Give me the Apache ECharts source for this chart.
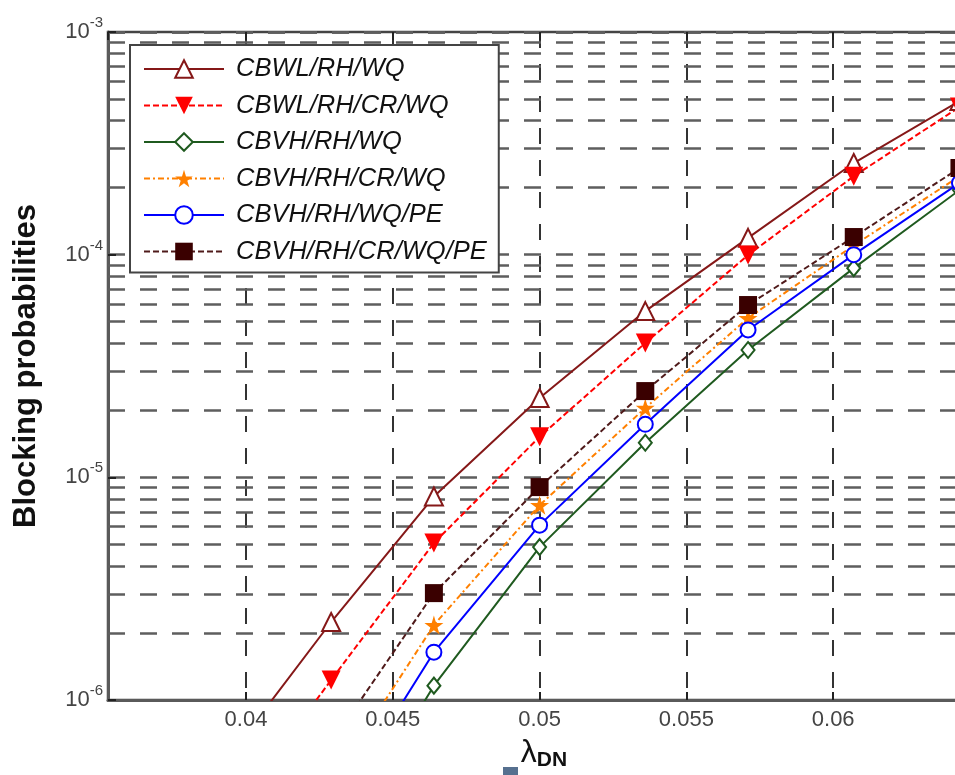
<!DOCTYPE html>
<html>
<head>
<meta charset="utf-8">
<script src="https://cdn.jsdelivr.net/npm/echarts@6/dist/echarts.min.js"></script>
<style>
  html, body { margin: 0; padding: 0; background: #fff; }
  #chart { width: 955px; height: 775px; }
</style>
</head>
<body>
<div id="chart"></div>
<script>
// lambda_DN values of the markers (the first one is below the visible y range)
const lambdaDN = [0.0393, 0.0429, 0.0464, 0.05, 0.0536, 0.0571, 0.0607, 0.0643]

const seriesNames = ['CBWL/RH/WQ', 'CBWL/RH/CR/WQ', 'CBVH/RH/WQ', 'CBVH/RH/CR/WQ', 'CBVH/RH/WQ/PE', 'CBVH/RH/CR/WQ/PE']

// blocking probabilities
const cbwlRhWq = [5.3e-7, 2.24e-6, 8.2e-6, 2.27e-5, 5.58e-5, 1.19e-4, 2.58e-4, 4.9e-4]
const cbwlRhCrWq = [2.8e-7, 1.23e-6, 5.07e-6, 1.52e-5, 4.01e-5, 9.96e-5, 2.25e-4, 4.6e-4]
const cbvhRhWq = [null, 2.0e-7, 1.16e-6, 4.86e-6, 1.43e-5, 3.73e-5, 8.7e-5, 1.95e-4]
const cbvhRhCrWq = [null, 4.2e-7, 2.17e-6, 7.5e-6, 2.05e-5, 5.19e-5, 1.1e-4, 2.25e-4]
const cbvhRhWqPe = [null, 3.0e-7, 1.64e-6, 6.1e-6, 1.73e-5, 4.59e-5, 1.0e-4, 2.1e-4]
const cbvhRhCrWqPe = [null, 6.4e-7, 3.02e-6, 9.04e-6, 2.44e-5, 5.94e-5, 1.2e-4, 2.45e-4]

// minor log grid lines (2..9 x 10^k), like matlab
const minorGrid = []
for (let k = -6; k < -3; k++) {
  for (let m = 2; m <= 9; m++) minorGrid.push(m * Math.pow(10, k))
}

const starPath = 'path://M50,0 L61,35 L98,35 L68,57 L79,91 L50,70 L21,91 L32,57 L2,35 L39,35 Z'
const font = '"Liberation Sans", Arial, sans-serif'

function pairs(ys) {
  const out = []
  ys.forEach((y, i) => { if (y !== null) out.push([lambdaDN[i], y]) })
  return out
}

const chart = echarts.init(document.getElementById('chart'), null, { renderer: 'canvas' })
chart.setOption({
  animation: false,
  backgroundColor: '#fff',
  grid: {
    left: 108,
    top: 32,
    width: 872,
    height: 668,
    outerBoundsMode: 'none',
    containLabel: false,
    show: true,
    borderColor: '#444',
    borderWidth: 2.5
  },
  legend: {
    data: seriesNames,
    orient: 'vertical',
    left: 130,
    top: 45,
    padding: [11, 12, 8, 13],
    itemWidth: 80,
    itemHeight: 22,
    itemGap: 10.5,
    backgroundColor: '#fff',
    borderColor: '#444',
    borderWidth: 2,
    borderRadius: 0,
    textStyle: {
      fontFamily: font,
      fontStyle: 'italic',
      fontSize: 25.5,
      lineHeight: 22,
      color: '#111',
      padding: [0, 0, 0, 7]
    }
  },
  xAxis: [
    {
      type: 'value',
      min: 0.0353,
      max: 0.065,
      name: '{l|λ}{s|DN}',
      nameLocation: 'middle',
      nameGap: 36,
      nameTextStyle: {
        rich: {
          l: { fontFamily: font, fontSize: 32, color: '#111' },
          s: { fontFamily: font, fontSize: 21, fontWeight: 'bold', color: '#111', padding: [14, 0, 0, 0] }
        }
      },
      axisLine: { show: true, lineStyle: { color: '#5a5a5a', width: 3 } },
      axisTick: { show: true, inside: true, length: 8, lineStyle: { color: '#222', width: 2 } },
      axisLabel: {
        showMinLabel: false,
        showMaxLabel: false,
        margin: 9,
        fontFamily: font,
        fontSize: 22,
        color: '#444'
      },
      splitLine: { show: true, lineStyle: { type: [16, 16], color: '#333', width: 2 } }
    },
    {
      // top side ticks only
      type: 'value',
      position: 'top',
      min: 0.0353,
      max: 0.065,
      axisLine: { show: false },
      axisTick: { show: true, inside: true, length: 8, lineStyle: { color: '#222', width: 2 } },
      axisLabel: { show: false },
      splitLine: { show: false }
    }
  ],
  yAxis: {
    type: 'log',
    logBase: 10,
    min: 1e-6,
    max: 1e-3,
    name: 'Blocking probabilities',
    nameLocation: 'middle',
    nameGap: 66,
    nameTextStyle: { fontFamily: font, fontSize: 31, fontWeight: 'bold', color: '#111' },
    axisLine: { show: true, lineStyle: { color: '#5a5a5a', width: 3 } },
    axisTick: { show: true, inside: true, length: 8, lineStyle: { color: '#222', width: 2 } },
    axisLabel: {
      margin: 5,
      formatter: function(v) {
        return '{b|10}{s|' + Math.round(Math.log10(v)) + '}'
      },
      rich: {
        b: { fontFamily: font, fontSize: 22, color: '#444' },
        s: { fontFamily: font, fontSize: 15, color: '#444', padding: [0, 0, 18, 0] }
      }
    },
    splitLine: { show: true, lineStyle: { type: [17, 15], color: '#5e5e5e', width: 2.5 } }
  },
  series: [
    {
      name: 'CBWL/RH/WQ',
      type: 'line',
      z: 3,
      data: pairs(cbwlRhWq),
      color: '#851818',
      symbol: 'emptyTriangle',
      symbolSize: 18,
      lineStyle: { width: 2, type: 'solid' },
      itemStyle: { borderWidth: 2 },
      markLine: {
        silent: true,
        z: 1,
        precision: 12,
        symbol: ['none', 'none'],
        label: { show: false },
        emphasis: { disabled: true },
        lineStyle: { type: [17, 15], color: '#5e5e5e', width: 2.5 },
        data: minorGrid.map(v => ({ yAxis: v }))
      }
    },
    {
      name: 'CBWL/RH/CR/WQ',
      type: 'line',
      z: 3,
      data: pairs(cbwlRhCrWq),
      color: '#ff0000',
      symbol: 'triangle',
      symbolRotate: 180,
      symbolSize: 19,
      lineStyle: { width: 2, type: [6, 3] }
    },
    {
      name: 'CBVH/RH/WQ',
      type: 'line',
      z: 3,
      data: pairs(cbvhRhWq),
      color: '#1f5a1f',
      symbol: 'emptyDiamond',
      symbolSize: [13, 16],
      lineStyle: { width: 2, type: 'solid' },
      itemStyle: { borderWidth: 2 }
    },
    {
      name: 'CBVH/RH/CR/WQ',
      type: 'line',
      z: 3,
      data: pairs(cbvhRhCrWq),
      color: '#ff8000',
      symbol: starPath,
      symbolSize: 19,
      lineStyle: { width: 2, type: [6, 3, 2, 3] }
    },
    {
      name: 'CBVH/RH/WQ/PE',
      type: 'line',
      z: 3,
      data: pairs(cbvhRhWqPe),
      color: '#0000ff',
      symbol: 'emptyCircle',
      symbolSize: 15,
      lineStyle: { width: 2, type: 'solid' },
      itemStyle: { borderWidth: 2 }
    },
    {
      name: 'CBVH/RH/CR/WQ/PE',
      type: 'line',
      z: 3,
      data: pairs(cbvhRhCrWqPe),
      color: '#3a0000',
      symbol: 'rect',
      symbolSize: 18,
      lineStyle: { width: 2, type: [6, 3], color: '#4f1a1a' }
    }
  ],
  graphic: [
    { type: 'rect', left: 503, top: 767, shape: { width: 15, height: 8 }, style: { fill: '#56708f' } }
  ]
})
</script>
</body>
</html>
